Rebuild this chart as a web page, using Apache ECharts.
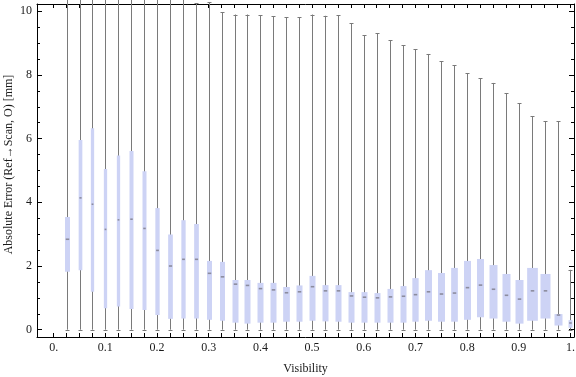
<!DOCTYPE html>
<html>
<head>
<meta charset="utf-8">
<script src="https://cdn.jsdelivr.net/npm/echarts@6/dist/echarts.min.js"></script>
<style>
  html, body { margin: 0; padding: 0; background: #fff; }
  #main { width: 576px; height: 377px; }
</style>
</head>
<body>
<div id="main"></div>
<script>
// box positions (visibility bins)
var positions = [0.025, 0.05, 0.075, 0.1, 0.125, 0.15, 0.175, 0.2, 0.225, 0.25,
  0.275, 0.3, 0.325, 0.35, 0.375, 0.4, 0.425, 0.45, 0.475, 0.5,
  0.525, 0.55, 0.575, 0.6, 0.625, 0.65, 0.675, 0.7, 0.725, 0.75,
  0.775, 0.8, 0.825, 0.85, 0.875, 0.9, 0.925, 0.95, 0.975, 1.0];
var whiskerLow = [0, 0, 0, 0, 0, 0, 0, 0, 0, 0,
  0, 0, 0, 0, 0, 0, 0, 0, 0, 0,
  0, 0, 0, 0, 0, 0, 0, 0, 0, 0,
  0, 0, 0, 0, 0, 0, 0, 0, 0, 0];
var q1 = [1.82, 1.87, 1.19, 0.67, 0.73, 0.65, 0.62, 0.46, 0.34, 0.35,
  0.35, 0.31, 0.28, 0.22, 0.19, 0.22, 0.22, 0.25, 0.25, 0.28,
  0.26, 0.25, 0.22, 0.22, 0.22, 0.22, 0.22, 0.25, 0.28, 0.25,
  0.25, 0.31, 0.39, 0.35, 0.25, 0.19, 0.28, 0.35, 0.13, 0.06];
var median = [2.84, 4.14, 3.94, 3.15, 3.45, 3.47, 3.18, 2.49, 2.00, 2.21,
  2.21, 1.77, 1.66, 1.43, 1.39, 1.29, 1.25, 1.16, 1.19, 1.35,
  1.22, 1.22, 1.06, 1.02, 1.00, 1.03, 1.05, 1.10, 1.19, 1.12,
  1.15, 1.32, 1.40, 1.27, 1.08, 0.96, 1.22, 1.22, 0.46, 0.21];
var q3 = [3.54, 5.96, 6.33, 5.05, 5.47, 5.61, 4.98, 3.82, 2.99, 3.44,
  3.32, 2.16, 2.13, 1.56, 1.56, 1.47, 1.47, 1.34, 1.39, 1.69,
  1.40, 1.40, 1.18, 1.18, 1.15, 1.28, 1.37, 1.62, 1.87, 1.78,
  1.94, 2.16, 2.22, 2.03, 1.75, 1.56, 1.94, 1.75, 0.49, 0.30];
var whiskerHigh = [10.6, 10.6, 10.6, 10.6, 10.6, 10.6, 10.6, 10.6, 10.6, 10.6,
  10.25, 10.28, 9.97, 9.90, 9.90, 9.87, 9.84, 9.82, 9.82, 9.90,
  9.86, 9.87, 9.62, 9.25, 9.31, 9.09, 8.94, 8.81, 8.66, 8.43,
  8.30, 8.06, 7.90, 7.75, 7.42, 7.11, 6.70, 6.54, 6.54, 1.88];
// drawn box widths (px)
var boxWidths = [5, 3.7, 3.3, 3.3, 3.3, 4, 4, 4.3, 4.7, 4.3,
  4.7, 5, 5, 6, 6, 6, 6, 6.7, 6, 6,
  6, 6, 6, 6, 6, 6, 6, 6.3, 7, 7,
  6.7, 7, 7, 8, 8, 8, 10.7, 10, 8, 4];

var xTicks = [];
for (var i = 0; i <= 40; i++) xTicks.push(+(i * 0.025).toFixed(3));
var xLabelValues = [0, 0.1, 0.2, 0.3, 0.4, 0.5, 0.6, 0.7, 0.8, 0.9, 1.0];
var xLabels = ['0.', '0.1', '0.2', '0.3', '0.4', '0.5', '0.6', '0.7', '0.8', '0.9', '1.'];
var yMajor = [0, 2, 4, 6, 8, 10];
var yMinor = [];
for (var j = 0; j <= 20; j++) yMinor.push(j * 0.5);

var data = positions.map(function (p, k) {
  return [p, whiskerLow[k], q1[k], median[k], q3[k], whiskerHigh[k], k];
});

var myChart = echarts.init(document.getElementById('main'));

var xMin = -0.0323, xMax = 1.0068, yMin = -0.23, yMax = 10.23;
var frameLine = { show: true, onZero: false, lineStyle: { color: '#000', width: 1 } };
var noLine = { show: false, onZero: false };
var labelFont = { fontFamily: 'Liberation Serif', fontSize: 12, color: '#1a1a1a' };

function renderBox(params, api) {
  var p = api.value(0);
  var k = api.value(6);
  var x = Math.round(api.coord([p, 0])[0]) + 0.5;
  var yLo = api.coord([p, api.value(1)])[1];
  var yQ1 = api.coord([p, api.value(2)])[1];
  var yMed = api.coord([p, api.value(3)])[1];
  var yQ3 = api.coord([p, api.value(4)])[1];
  var yHi = api.coord([p, api.value(5)])[1];
  var w = boxWidths[k];
  var whisk = { stroke: '#7a7a7a', lineWidth: 1 };
  var mLen = Math.min(3.5, w - 1.5);
  return {
    type: 'group',
    children: [
      { type: 'line', shape: { x1: x, y1: yLo, x2: x, y2: yHi }, style: whisk },
      { type: 'line', shape: { x1: x - 2, y1: Math.round(yLo) + 0.5, x2: x + 2, y2: Math.round(yLo) + 0.5 }, style: whisk },
      { type: 'line', shape: { x1: x - 2, y1: Math.round(yHi) + 0.5, x2: x + 2, y2: Math.round(yHi) + 0.5 }, style: whisk },
      { type: 'rect', shape: { x: x - w / 2, y: yQ3, width: w, height: yQ1 - yQ3 }, style: { fill: '#cdd3f5' } },
      { type: 'line', shape: { x1: x - mLen / 2, y1: yMed, x2: x + mLen / 2, y2: yMed }, style: { stroke: '#8c8c9e', lineWidth: 1.6 } }
    ]
  };
}

var option = {
  animation: false,
  backgroundColor: '#fff',
  grid: { left: 37, right: 2, top: 4, bottom: 40, containLabel: false, outerBoundsMode: 'none' },
  xAxis: [
    {
      type: 'value', position: 'bottom', min: xMin, max: xMax,
      axisLine: frameLine,
      axisTick: { show: true, inside: true, length: 4, customValues: xTicks, lineStyle: { color: '#000' } },
      axisLabel: {
        show: true, margin: 5, customValues: xLabelValues,
        formatter: function (v) {
          for (var n = 0; n < xLabelValues.length; n++) {
            if (Math.abs(xLabelValues[n] - v) < 1e-6) return xLabels[n];
          }
          return '';
        },
        fontFamily: labelFont.fontFamily, fontSize: 12, color: labelFont.color
      },
      splitLine: { show: false },
      name: 'Visibility', nameLocation: 'middle', nameGap: 26, nameMoveOverlap: false,
      nameTextStyle: labelFont
    },
    {
      type: 'value', position: 'top', min: xMin, max: xMax,
      axisLine: frameLine,
      axisTick: { show: true, inside: true, length: 4, customValues: xTicks, lineStyle: { color: '#000' } },
      axisLabel: { show: false },
      splitLine: { show: false }
    }
  ],
  yAxis: [
    {
      type: 'value', position: 'left', min: yMin, max: yMax,
      axisLine: frameLine,
      axisTick: { show: true, inside: true, length: 5, customValues: yMajor, lineStyle: { color: '#000' } },
      axisLabel: { show: true, margin: 5, customValues: yMajor, fontFamily: labelFont.fontFamily, fontSize: 12, color: labelFont.color },
      splitLine: { show: false },
      name: 'Absolute Error (Ref\u2192Scan, O) [mm]', nameLocation: 'middle', nameGap: 22, nameMoveOverlap: false,
      nameTextStyle: { fontFamily: 'Liberation Serif', fontSize: 12, color: '#1a1a1a', padding: [0, 0, 0, 12] }
    },
    {
      type: 'value', position: 'left', min: yMin, max: yMax,
      axisLine: noLine,
      axisTick: { show: true, inside: true, length: 3, customValues: yMinor, lineStyle: { color: '#000' } },
      axisLabel: { show: false },
      splitLine: { show: false }
    },
    {
      type: 'value', position: 'right', min: yMin, max: yMax,
      axisLine: frameLine,
      axisTick: { show: true, inside: true, length: 5, customValues: yMajor, lineStyle: { color: '#000' } },
      axisLabel: { show: false },
      splitLine: { show: false }
    },
    {
      type: 'value', position: 'right', min: yMin, max: yMax,
      axisLine: noLine,
      axisTick: { show: true, inside: true, length: 3, customValues: yMinor, lineStyle: { color: '#000' } },
      axisLabel: { show: false },
      splitLine: { show: false }
    }
  ],
  series: [
    {
      type: 'custom',
      xAxisIndex: 0,
      yAxisIndex: 0,
      clip: false,
      renderItem: renderBox,
      encode: { x: 0, y: [1, 2, 3, 4, 5] },
      data: data
    }
  ]
};

myChart.setOption(option);
</script>
</body>
</html>
